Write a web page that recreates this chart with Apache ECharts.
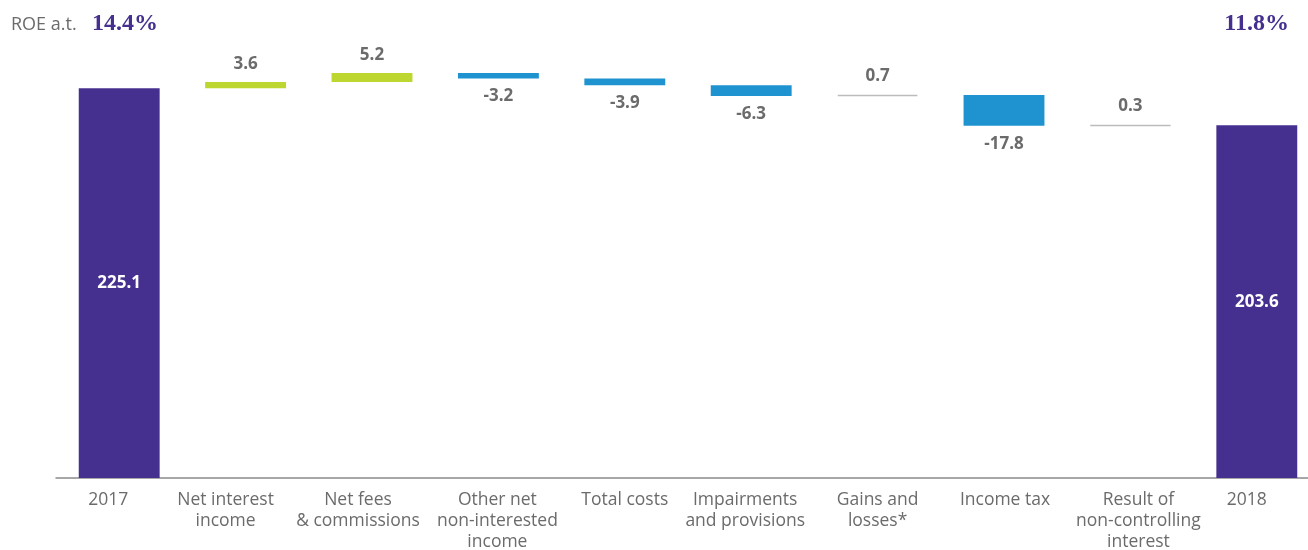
<!DOCTYPE html>
<html>
<head>
<meta charset="utf-8">
<script src="https://cdn.jsdelivr.net/npm/echarts@6/dist/echarts.min.js"></script>
<style>
  html, body { margin: 0; padding: 0; background: #fff; overflow: hidden; }
  #chart { width: 1308px; height: 550px; }
</style>
</head>
<body>
<div id="chart"></div>
<script>
// Net profit bridge 2017 -> 2018 (EUR m)
const categories = [
  '2017',
  'Net interest\nincome',
  'Net fees\n& commissions',
  'Other net\nnon-interested\nincome',
  'Total costs',
  'Impairments\nand provisions',
  'Gains and\nlosses*',
  'Income tax',
  'Result of\nnon-controlling\ninterest',
  '2018'
];
const startValue = 225.1;
const endValue = 203.6;
const deltas = [3.6, 5.2, -3.2, -3.9, -6.3, 0.7, -17.8, 0.3];
// items shown as a neutral grey line rather than a coloured bar
const neutralItems = ['Gains and\nlosses*', 'Result of\nnon-controlling\ninterest'];
const roeStart = '14.4%';
const roeEnd = '11.8%';

const PURPLE = '#45308f';
const GREEN = '#bdd630';
const BLUE = '#1f93d0';
const GREY = '#bcbcbc';
const TEXT = '#6b6b6b';

// horizontal nudge (px) of each category caption relative to its bar
const captionNudge = [-11, -20, -14, -1, 0, -6, 0, 1, 8, -10];

// Build invisible bases and visible segments for the waterfall
const base = [0];
const visible = [];
visible.push({
  value: startValue,
  itemStyle: { color: PURPLE },
  label: { show: true, position: 'inside', color: '#fff', formatter: startValue.toFixed(1) }
});
let running = startValue;
deltas.forEach((d, i) => {
  const cat = categories[i + 1];
  const next = running + d;
  base.push(Math.min(running, next));
  const neutral = neutralItems.includes(cat);
  const color = neutral ? GREY : (d >= 0 ? GREEN : BLUE);
  visible.push({
    value: Math.abs(d),
    itemStyle: neutral ? { color: color, borderColor: color, borderWidth: 1.6 } : { color: color },
    label: {
      show: true,
      position: d >= 0 ? 'top' : 'bottom',
      distance: neutral ? 10 : (d >= 0 ? 9 : 9.5),
      color: TEXT,
      formatter: d.toFixed(1)
    }
  });
  running = next;
});
base.push(0);
visible.push({
  value: endValue,
  itemStyle: { color: PURPLE },
  label: { show: true, position: 'inside', color: '#fff', formatter: endValue.toFixed(1) }
});

// rich styles that shift each caption by padding one side
const captionRich = {};
captionNudge.forEach((dx, i) => {
  captionRich['c' + i] = {
    color: TEXT,
    fontFamily: 'Open Sans',
    fontSize: 17.5,
    lineHeight: 21,
    padding: dx < 0 ? [0, -2 * dx, 0, 0] : [0, 0, 0, 2 * dx]
  };
});

const chart = echarts.init(document.getElementById('chart'), null, { renderer: 'canvas' });
chart.setOption({
  animation: false,
  backgroundColor: '#fff',
  grid: {
    left: 56, top: 45, width: 1264, height: 433,
    containLabel: false,
    outerBoundsMode: 'none'
  },
  xAxis: {
    type: 'category',
    data: categories,
    axisLine: { show: true, lineStyle: { color: '#8a8a8a', width: 1.5 } },
    axisTick: { show: false },
    axisLabel: {
      interval: 0,
      color: TEXT,
      fontFamily: 'Open Sans',
      fontSize: 17.5,
      lineHeight: 21,
      margin: 12,
      align: 'center',
      formatter: (value, idx) =>
        value.split('\n').map(line => '{c' + idx + '|' + line + '}').join('\n'),
      rich: captionRich
    }
  },
  yAxis: {
    type: 'value',
    min: 0,
    max: 250,
    show: false,
    splitLine: { show: false }
  },
  series: [
    {
      type: 'bar',
      stack: 'bridge',
      data: base,
      itemStyle: { color: 'transparent' },
      barWidth: '64%',
      silent: true
    },
    {
      type: 'bar',
      stack: 'bridge',
      data: visible,
      barWidth: '64%',
      label: {
        fontFamily: 'Open Sans',
        fontWeight: 'bold',
        fontSize: 17
      }
    }
  ],
  graphic: [
    {
      type: 'text', x: 11, y: 25,
      style: { text: 'ROE a.t.', fill: TEXT, font: '18px "Open Sans"', verticalAlign: 'middle' }
    },
    {
      type: 'text', x: 92, y: 24,
      style: { text: roeStart, fill: PURPLE, font: 'bold 24px "Liberation Serif"', verticalAlign: 'middle' }
    },
    {
      type: 'text', x: 1289, y: 24,
      style: { text: roeEnd, fill: PURPLE, font: 'bold 24px "Liberation Serif"', align: 'right', verticalAlign: 'middle' }
    }
  ]
});
</script>
</body>
</html>
